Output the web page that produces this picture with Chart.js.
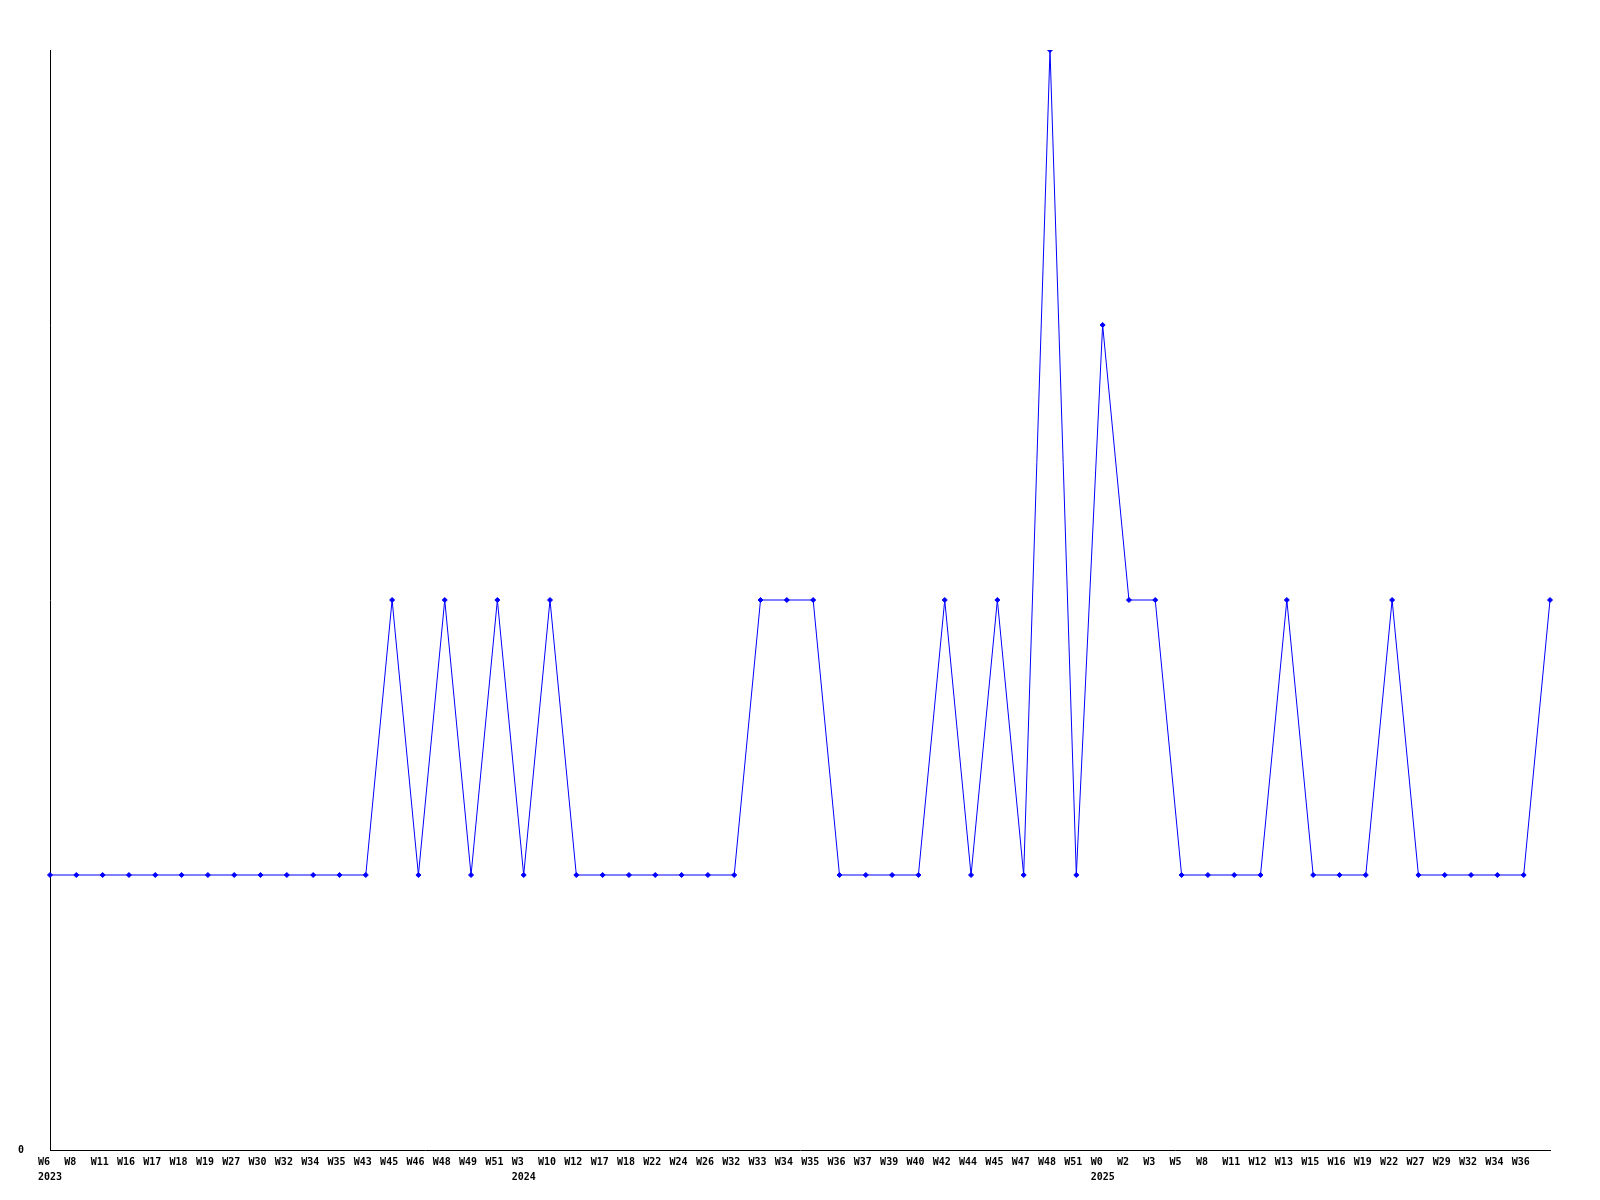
<!DOCTYPE html>
<html>
<head>
<meta charset="utf-8">
<script src="https://cdn.jsdelivr.net/npm/chart.js@4/dist/chart.umd.min.js"></script>
<style>
html,body{margin:0;padding:0;background:#fff;}
canvas{display:block;}
</style>
</head>
<body>
<canvas id="c" width="1600" height="1200"></canvas>
<script>
const weeks2023 = ["W6","W8","W11","W16","W17","W18","W19","W27","W30","W32","W34","W35","W43","W45","W46","W48","W49","W51"];
const weeks2024 = ["W3","W10","W12","W17","W18","W22","W24","W26","W32","W33","W34","W35","W36","W37","W39","W40","W42","W44","W45","W47","W48","W51"];
const weeks2025 = ["W0","W2","W3","W5","W8","W11","W12","W13","W15","W16","W19","W22","W27","W29","W32","W34","W36",""];
const years = ["2023","2024","2025"];

const values2023 = [1,1,1,1,1,1,1,1,1,1,1,1,1,2,1,2,1,2];
const values2024 = [1,2,1,1,1,1,1,1,1,2,2,2,1,1,1,1,2,1,2,1,4,1];
const values2025 = [3,2,2,1,1,1,1,2,1,1,1,2,1,1,1,1,1,2];

const yTickLabels = ["0"];

function withYear(list, year) {
  return list.map((w, i) => i === 0 ? [w, year] : w);
}
const labels = [].concat(withYear(weeks2023, years[0]), withYear(weeks2024, years[1]), withYear(weeks2025, years[2]));
const values = [].concat(values2023, values2024, values2025);

const tickFont = { family: "'DejaVu Sans Mono', monospace", size: 10, weight: 'bold', lineHeight: '15px' };

new Chart(document.getElementById('c'), {
  type: 'line',
  data: {
    labels: labels,
    datasets: [{
      data: values,
      borderColor: '#0000ff',
      backgroundColor: '#0000ff',
      borderWidth: 1,
      pointStyle: 'rectRot',
      pointRadius: 2.5,
      pointBorderWidth: 1,
      pointBackgroundColor: '#0000ff',
      pointBorderColor: '#0000ff',
      tension: 0,
      fill: false
    }]
  },
  options: {
    responsive: false,
    animation: false,
    events: [],
    layout: { padding: { top: 50, right: 50, left: 0, bottom: 0 } },
    plugins: { legend: { display: false }, tooltip: { enabled: false }, title: { display: false } },
    scales: {
      x: {
        type: 'category',
        offset: false,
        grid: { display: false, drawTicks: false },
        border: { display: true, color: '#000000', width: 1 },
        ticks: {
          autoSkip: false,
          maxRotation: 0,
          minRotation: 0,
          align: 'start',
          labelOffset: -12,
          padding: 5,
          color: '#000000',
          font: tickFont
        },
        afterFit: function(scale) { scale.height = 50; }
      },
      y: {
        min: 0,
        max: 4,
        grid: { display: false, drawTicks: false },
        border: { display: true, color: '#000000', width: 1 },
        ticks: {
          stepSize: 1,
          padding: 26,
          color: '#000000',
          font: tickFont,
          callback: function(v) { return yTickLabels.includes(String(v)) ? String(v) : ''; }
        },
        afterFit: function(scale) { scale.width = 50; }
      }
    }
  }
});
</script>
</body>
</html>
